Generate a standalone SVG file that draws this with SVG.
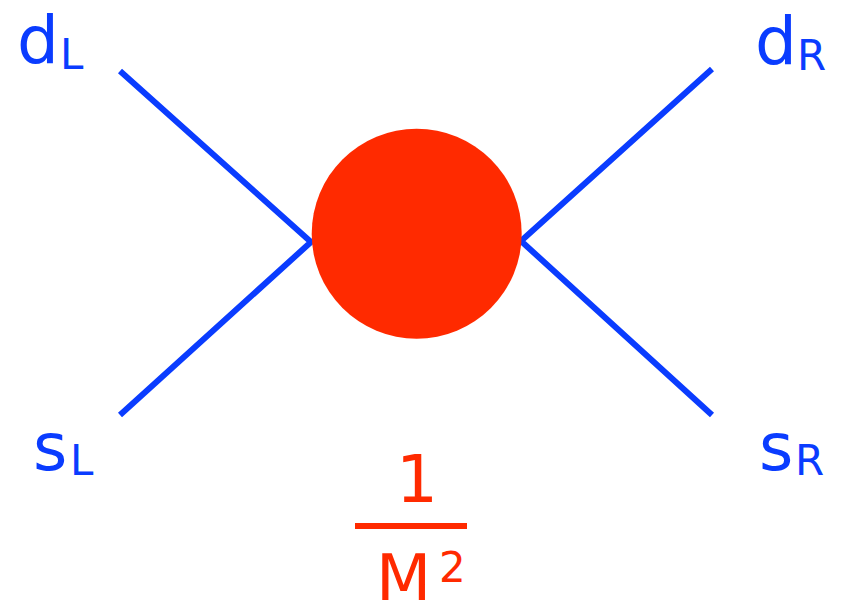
<svg xmlns="http://www.w3.org/2000/svg" width="842" height="610" viewBox="0 0 842 610">
<style>
.lbl{font-family:"Comic Sans MS","DejaVu Sans","Noto Sans",sans-serif;fill:#0A3CFF}
.big{font-size:66px}
.sub{font-size:42px}
.red{font-family:"Comic Sans MS","DejaVu Sans","Noto Sans",sans-serif;fill:#FF2A00}
.leg{stroke:#0A3CFF;stroke-width:6;fill:none}
</style>
<rect width="842" height="610" fill="#fff"/>
<g id="connectors">
<path class="leg" d="M120,71 L311,242 L120,415"/>
<path class="leg" d="M712,69 L521,241 L712,415"/>
</g>
<g id="vertex">
<circle cx="416.7" cy="233.7" r="105" fill="#FF2A00"/>
</g>
<g id="dL"><text class="lbl big" x="17" y="63">d</text><text class="lbl sub" x="60" y="69">L</text></g>
<g id="dR"><text class="lbl big" x="755" y="64">d</text><text class="lbl sub" x="797" y="70">R</text></g>
<g id="sL"><text class="lbl big" x="33" y="470">s</text><text class="lbl sub" x="70" y="475">L</text></g>
<g id="sR"><text class="lbl big" x="759" y="470">s</text><text class="lbl sub" x="795" y="475">R</text></g>
<g id="coupling">
<text class="red" x="417" y="502" font-size="66" text-anchor="middle">1</text>
<line x1="355" y1="526" x2="467" y2="526" stroke="#FF2A00" stroke-width="6"/>
<text class="red" x="376" y="600" font-size="64">M</text>
<text class="red" x="439" y="582" font-size="42">2</text>
</g>
</svg>
